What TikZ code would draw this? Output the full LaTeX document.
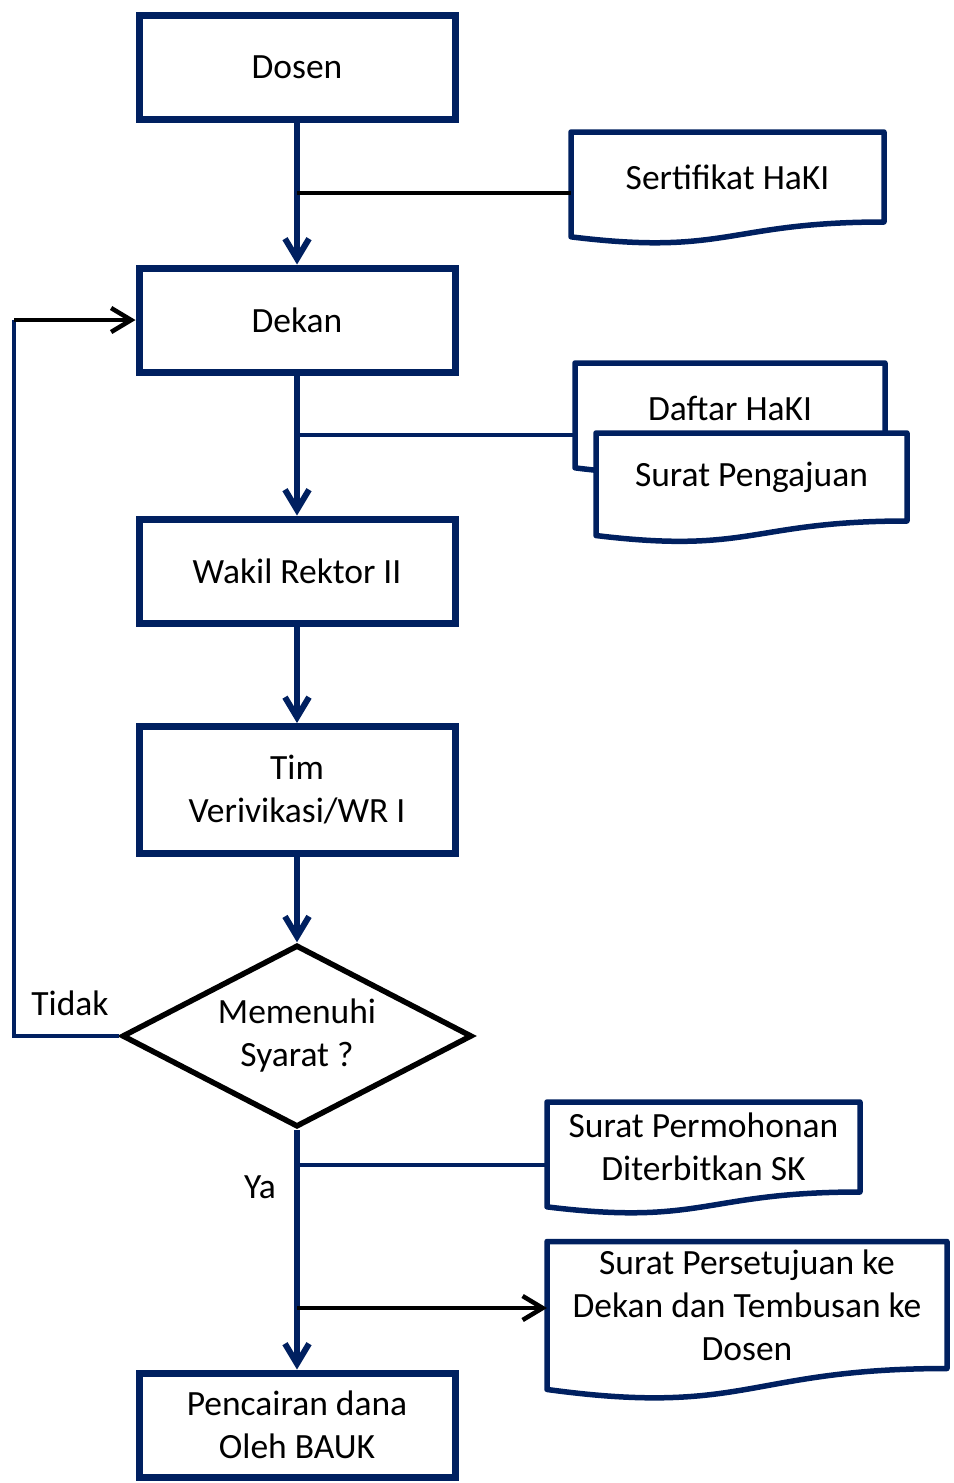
\documentclass[tikz,border=0pt]{standalone}
\usepackage{fontspec}
\setmainfont{Carlito}
\usetikzlibrary{shapes.geometric}
\usetikzlibrary{arrows.meta}
\usetikzlibrary{calc}
\definecolor{birutua}{RGB}{0,32,96}

\tikzset{
  huruf/.style={font=\fontsize{35.5pt}{43pt}\selectfont},
  kotak/.style={rectangle,draw=birutua,line width=7pt,minimum width=316pt,
    minimum height=104pt,align=center,huruf},
  keputusan/.style={diamond,draw=black,line width=5.5pt,minimum width=350pt,
    minimum height=182pt,inner sep=0pt,aspect=1.9,align=center,huruf},
  dokruang/.style={rectangle,inner sep=0pt,outer sep=0pt},
  garisdok/.style={draw=birutua,line width=5.5pt,fill=white,line join=round},
  teks/.style={align=center,inner sep=0pt,huruf},
  ujung/.style={-{Straight Barb[length=20pt,width=24pt]}},
  alur/.style={draw=birutua,line width=6pt,ujung},
  sambbiru/.style={draw=birutua,line width=4.5pt},
  sambhitam/.style={draw=black,line width=4.5pt}
}

% dokumen: nama, posisi, lebar, tinggi, teks
\newcommand{\dokumen}[5]{%
  \path (#2) node[dokruang,minimum width=#3,minimum height=#4] (#1) {};
  \draw[garisdok] let \p1=($(#1.north)-(#1.south)$) in
    (#1.north west) -- (#1.north east) -- (#1.south east)
    .. controls (#1.south) and ($(#1.south)+(0pt,-0.38*\y1)$) ..
    ($(#1.south west)+(0pt,-0.165*\y1)$) -- cycle;
  \node[teks] (#1-teks) at (#1.center) {#5};}

\begin{document}
\begin{tikzpicture}[x=1pt,y=-1pt]
\useasboundingbox (0,0) rectangle (953,1483);
% alur utama
\node[kotak] (dosen) at (297,67) {Dosen};
\node[kotak] (dekan) at (297,320) {Dekan};
\node[kotak] (wakil) at (297,571) {Wakil Rektor II};
\node[kotak,minimum height=127pt] (tim) at (297,790) {Tim\\Verivikasi/WR I};
\node[keputusan] (syarat) at (297,1036) {Memenuhi\\Syarat ?};
\node[kotak] (cair) at (297,1425) {Pencairan dana\\Oleh BAUK};

\node[teks] (tidak) at (70,1003) {Tidak};
\node[teks] (ya) at (260,1187) {Ya};

% titik cabang
\coordinate (j1) at (297,193);
\coordinate (j2) at (297,435);
\coordinate (j3) at (297,1165);
\coordinate (j4) at (297,1308);
\coordinate (balik) at (14,1036);

\draw[alur] (dosen.south) -- (dekan.north);
\draw[alur] (dekan.south) -- (wakil.north);
\draw[alur] (wakil.south) -- (tim.north);
\draw[alur] (tim.south) -- (syarat.north);
\draw[alur] (syarat.south) -- (cair.north);

% dokumen
\dokumen{sertifikat}{727.5,177}{313pt}{90pt}{Sertifikat HaKI}
\dokumen{daftar}{730,408}{310pt}{90pt}{Daftar HaKI}
\dokumen{pengajuan}{751.5,477}{311pt}{88pt}{Surat Pengajuan}
\dokumen{permohonan}{703.5,1147}{313pt}{90pt}{Surat Permohonan\\Diterbitkan SK}
\dokumen{persetujuan}{747,1305}{400pt}{127pt}{Surat Persetujuan ke\\Dekan dan Tembusan ke\\Dosen}

\draw[sambhitam] (sertifikat.west |- j1) -- (j1);
\draw[sambbiru] (daftar.west |- j2) -- (j2);
\draw[sambbiru] (permohonan.west |- j3) -- (j3);
\draw[sambhitam,ujung] (j4) -- (persetujuan.west |- j4);

% kembali ke dekan
\draw[sambbiru] (syarat.west) -- (balik) -- (balik |- dekan.west);
\draw[sambhitam,ujung] (balik |- dekan.west) -- (dekan.west);
\end{tikzpicture}
\end{document}
